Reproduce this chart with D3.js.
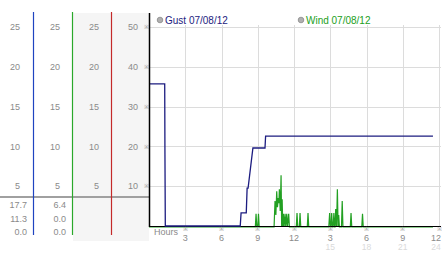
<!DOCTYPE html>
<html lang="en">
<head>
<meta charset="UTF-8" />
<title>Gust / Wind</title>
<style>
  body { margin: 0; background: #fff; }
  text { font-family: "Liberation Sans", Arial, sans-serif; }
</style>
</head>
<body>
<svg width="442" height="253" id="svg"></svg>
<script src="https://cdn.jsdelivr.net/npm/d3@7"></script>
<script>
// ---- data ----
const panelTicks = [5, 10, 15, 20, 25]
const plotTicks = [10, 20, 30, 40, 50]
const hourTicks = [3, 6, 9, 12, 15, 18, 21, 24]
const hourLabels = ["3", "6", "9", "12", "3", "6", "9", "12"]
const hourLabels2 = ["", "", "", "", "15", "18", "21", "24"]
const gustStats = ["17.7", "11.3", "0.0"]
const windStats = ["6.4", "0.0", "0.0"]
const legendNames = ["Gust 07/08/12", "Wind 07/08/12"]

const gustHours = [0, 1.3, 1.32, 1.35, 7.55, 7.62, 8.05, 8.12, 8.2, 8.6, 9.6, 9.65, 23.5]
const gustValues = [35.7, 35.7, 18, 0, 0, 3.3, 3.3, 9.5, 9.5, 19.6, 19.6, 22.6, 22.6]

const windHours = [0, 8.8, 8.86, 8.92, 9.0, 9.06, 9.12,
  10.35, 10.43, 10.5, 10.57, 10.63, 10.7, 10.75, 10.79, 10.86, 10.93, 10.98, 11.02, 11.07,
  11.12, 11.18, 11.26, 11.32, 11.4, 11.46, 11.56, 11.62,
  12.19, 12.25, 12.31, 12.44, 12.5, 12.56, 13.1, 13.16, 13.22,
  14.88, 14.95, 15.01, 15.06, 15.12, 15.18, 15.24, 15.3, 15.36, 15.4, 15.45, 15.52, 15.59, 15.65, 15.7, 15.76,
  15.93, 15.99, 16.05, 16.66, 16.72, 16.78, 17.61, 17.67, 17.73, 23.5]
const windValues = [0, 0, 3.3, 0, 0, 3.3, 0,
  0, 6.5, 3, 9, 5, 7.3, 6, 9.5, 4, 13, 0, 7, 0,
  3.3, 0, 3.3, 0, 3.3, 0, 3.3, 0,
  0, 3.5, 0, 0, 3.5, 0, 0, 3.5, 0,
  0, 3.5, 0, 0, 3.5, 0, 0, 3.5, 0, 0, 4.5, 0, 9.5, 0, 3, 0,
  0, 6.5, 0, 0, 3.5, 0, 0, 3.3, 0, 0]

// ---- layout ----
const svg = d3.select("#svg")
const x = d3.scaleLinear().domain([0, 24]).range([149, 439])
const y = d3.scaleLinear().domain([0, 50]).range([226, 27])
const yPanel = d3.scaleLinear().domain([0, 25]).range([226, 27])

const gustColor = "#1c1c80"
const windColor = "#22a022"
const labelColor = "#8a8a8a"

// left panels background
svg.append("rect").attr("x", 73).attr("y", 13).attr("width", 76).attr("height", 228).attr("fill", "#f5f5f5")

// separator line above stats
svg.append("line").attr("x1", 0).attr("x2", 149).attr("y1", 197).attr("y2", 197)
  .attr("stroke", "#a0a0a0").attr("stroke-width", 2)

// panel divider lines
const dividers = [{ x: 33.5, c: "#1f44c0" }, { x: 72.5, c: "#2aa82a" }, { x: 111.5, c: "#c42a2a" }]
svg.selectAll(".divider").data(dividers).join("line")
  .attr("x1", d => d.x).attr("x2", d => d.x).attr("y1", 12).attr("y2", 235)
  .attr("stroke", d => d.c).attr("stroke-width", 1.2)

// panel tick labels
const panelRights = [20, 60, 99]
panelRights.forEach(px => {
  svg.append("g").selectAll("text").data(panelTicks).join("text")
    .attr("x", px).attr("y", d => yPanel(d)).attr("dy", "0.35em")
    .attr("text-anchor", "end").attr("font-size", 9).attr("fill", labelColor)
    .text(d => d)
})
// scale panel (plot scale)
svg.append("g").selectAll("text").data(plotTicks).join("text")
  .attr("x", 138).attr("y", d => y(d)).attr("dy", "0.35em")
  .attr("text-anchor", "end").attr("font-size", 9).attr("fill", labelColor)
  .text(d => d)
svg.append("g").selectAll("text").data(plotTicks).join("text")
  .attr("x", 146).attr("y", d => y(d)).attr("dy", "0.35em")
  .attr("text-anchor", "middle").attr("font-size", 6).attr("fill", "#999")
  .text("※")

// stats rows
const statY = [205, 219, 232]
svg.append("g").selectAll("text").data(gustStats).join("text")
  .attr("x", 27).attr("y", (d, i) => statY[i]).attr("dy", "0.35em")
  .attr("text-anchor", "end").attr("font-size", 9).attr("fill", labelColor)
  .text(d => d)
svg.append("g").selectAll("text").data(windStats).join("text")
  .attr("x", 66).attr("y", (d, i) => statY[i]).attr("dy", "0.35em")
  .attr("text-anchor", "end").attr("font-size", 9).attr("fill", labelColor)
  .text(d => d)

// plot background + grid
svg.append("rect").attr("x", 149).attr("y", 13).attr("width", 293).attr("height", 214).attr("fill", "#fff")
const grid = svg.append("g").attr("stroke", "#dcdcdc").attr("stroke-width", 1)
grid.selectAll(".h").data(plotTicks).join("line")
  .attr("x1", x(0)).attr("x2", 441).attr("y1", d => Math.round(y(d)) + 0.5).attr("y2", d => Math.round(y(d)) + 0.5)
grid.selectAll(".v").data(hourTicks).join("line")
  .attr("x1", d => Math.round(x(d)) + 0.5).attr("x2", d => Math.round(x(d)) + 0.5)
  .attr("y1", 25).attr("y2", y(0))

// series
const gustLine = d3.line().x(d => x(d[0])).y(d => y(d[1]))
const windLine = d3.line().x(d => x(d[0])).y(d => y(d[1]) + 1)

svg.append("path").datum(windHours.map((h, i) => [h, windValues[i]]))
  .attr("d", windLine).attr("fill", "none").attr("stroke", windColor).attr("stroke-width", 1.2)

// axes lines
svg.append("line").attr("x1", 149).attr("x2", 441).attr("y1", 226.5).attr("y2", 226.5)
  .attr("stroke", "#000").attr("stroke-width", 1.2)
svg.append("path").datum(gustHours.map((h, i) => [h, gustValues[i]]))
  .attr("d", gustLine).attr("fill", "none").attr("stroke", gustColor).attr("stroke-width", 1.3)
svg.append("line").attr("x1", 149.5).attr("x2", 149.5).attr("y1", 13).attr("y2", 227)
  .attr("stroke", "#000").attr("stroke-width", 1.5)

// x axis labels
svg.append("text").attr("x", 154).attr("y", 232).attr("dy", "0.35em")
  .attr("font-size", 9).attr("fill", labelColor).text("Hours")
const xl = svg.append("g")
const labelX = d => Math.min(x(d), 436)
xl.selectAll(".mark").data(hourTicks).join("text")
  .attr("x", d => x(d)).attr("y", 231).attr("text-anchor", "middle")
  .attr("font-size", 6).attr("fill", "#999").text("※")
xl.selectAll(".lab").data(hourTicks).join("text")
  .attr("x", labelX).attr("y", 237.5).attr("dy", "0.35em").attr("text-anchor", "middle")
  .attr("font-size", 9).attr("fill", labelColor).text((d, i) => hourLabels[i])
xl.selectAll(".lab2").data(hourTicks).join("text")
  .attr("x", labelX).attr("y", 247.5).attr("dy", "0.35em").attr("text-anchor", "middle")
  .attr("font-size", 8.5).attr("fill", "#dadada").text((d, i) => hourLabels2[i])

// legend
const legendX = [160, 301]
const legendColors = [gustColor, windColor]
legendNames.forEach((name, i) => {
  svg.append("circle").attr("cx", legendX[i]).attr("cy", 20).attr("r", 2.8)
    .attr("fill", "#b0b0b0").attr("stroke", "#8a8a8a").attr("stroke-width", 0.8)
  svg.append("text").attr("x", legendX[i] + 5).attr("y", 20).attr("dy", "0.35em")
    .attr("font-family", "DejaVu Sans").attr("font-size", 10).attr("fill", legendColors[i])
    .text(name)
})
</script>
</body>
</html>
